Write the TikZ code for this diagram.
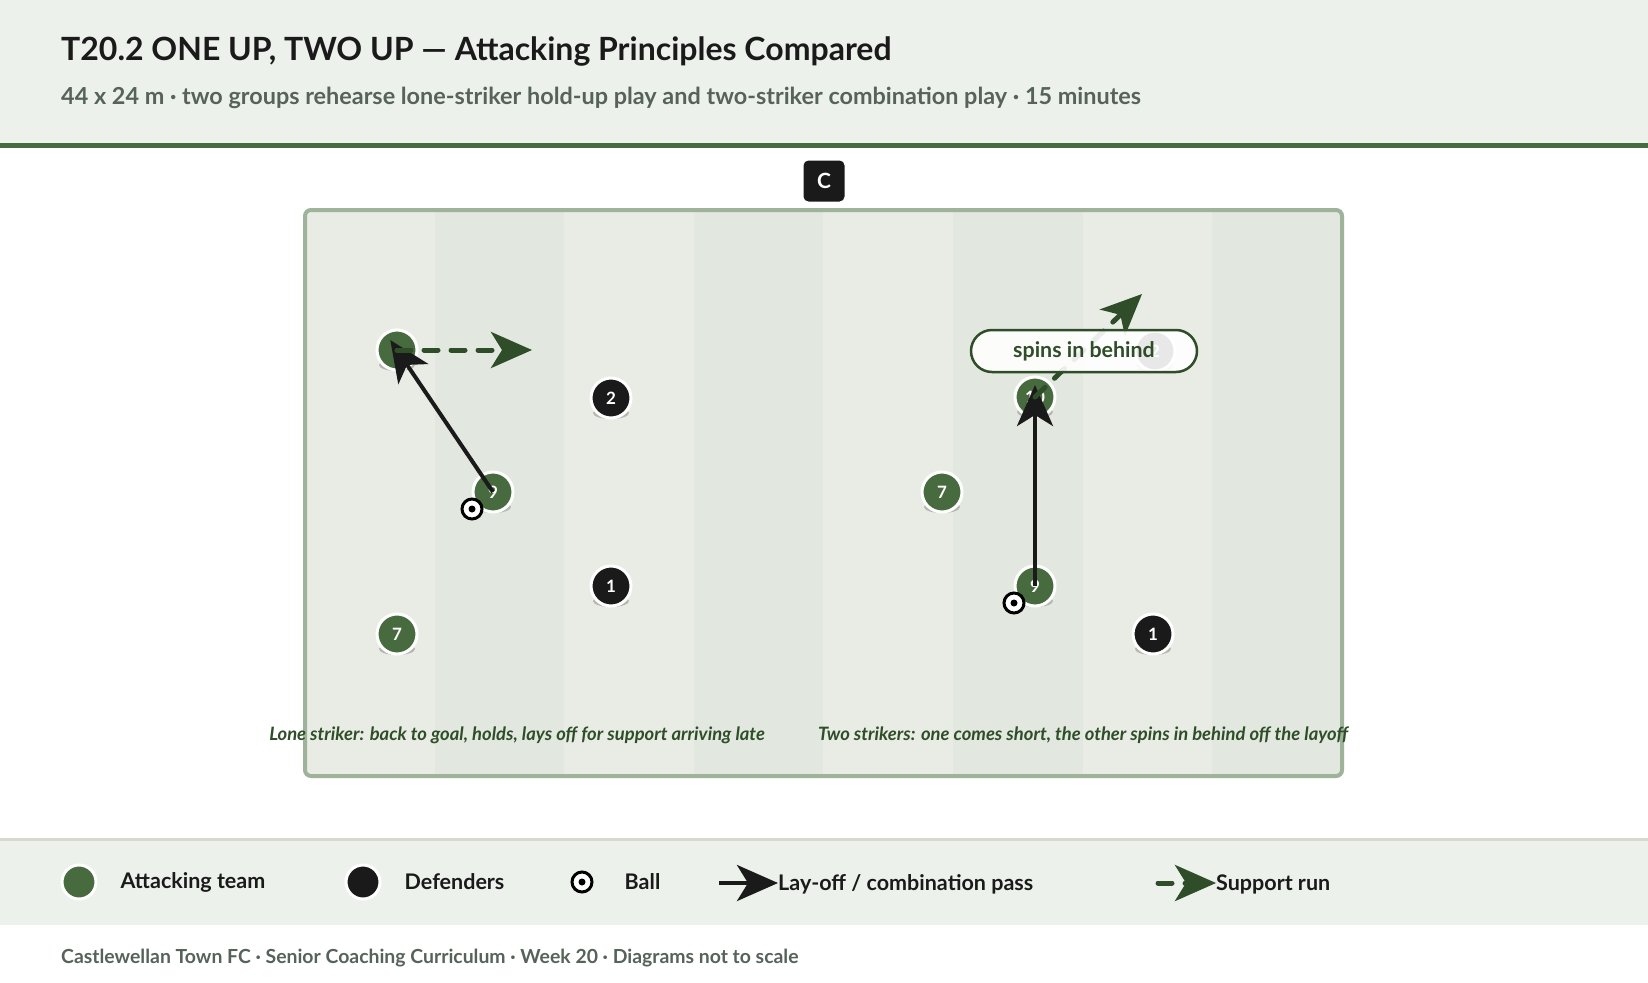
\documentclass[tikz,border=0pt]{standalone}
\usepackage{fontspec}
\setmainfont{Lato}
\usetikzlibrary{arrows.meta,positioning}

\definecolor{headbg}{HTML}{EDF1EC}
\definecolor{headline}{HTML}{476B3E}
\definecolor{subgray}{HTML}{56625A}
\definecolor{stripelight}{HTML}{E9ECE5}
\definecolor{stripedark}{HTML}{E2E8DF}
\definecolor{pitchline}{HTML}{9EB39A}
\definecolor{attgreen}{HTML}{476B3E}
\definecolor{defblack}{HTML}{1A1A1A}
\definecolor{rungreen}{HTML}{2E4D28}
\definecolor{shadowgray}{HTML}{B4B8B0}
\definecolor{legendline}{HTML}{D8D8CF}

\tikzset{
  att/.style={circle, fill=attgreen, draw=white, line width=3pt, minimum size=40pt,
    inner sep=0pt, text=white, font=\bfseries\fontsize{17}{17}\selectfont},
  def/.style={att, fill=defblack},
  ball/.style={circle, fill=white, draw=black, line width=3pt, minimum size=20pt, inner sep=0pt,
    path picture={\fill[black] (path picture bounding box.center) circle (3.5pt);}},
  pass/.style={draw=defblack, line width=4pt, shorten >=-12pt,
    -{Stealth[length=41pt,width=36pt,inset=11pt,line cap=butt]}},
  run/.style={draw=rungreen, line width=5pt, line cap=round, dash pattern=on 14pt off 13pt,
    -{Stealth[length=41pt,width=36pt,inset=11pt,line cap=butt]}},
  keydot/.style={circle, draw=white, line width=3pt, minimum size=34pt, inner sep=0pt},
  keytext/.style={anchor=west, font=\bfseries\fontsize{21.5}{25}\selectfont, text=defblack, inner sep=0pt},
  caption/.style={font=\bfseries\itshape\fontsize{18.4}{22}\selectfont, text=rungreen, anchor=base},
}

% player with its ground shadow: style, name, position, number
\newcommand{\player}[4]{%
  \fill[shadowgray] ([yshift=-15pt]#3) ellipse (18pt and 6pt);
  \node[#1] (#2) at (#3) {#4};}

\begin{document}
\begin{tikzpicture}[x=1pt,y=-1pt]
  \useasboundingbox (0,0) rectangle (1648,982);
  \fill[white] (0,0) rectangle (1648,982);

  % header
  \fill[headbg] (0,0) rectangle (1648,143);
  \fill[headline] (0,143) rectangle (1648,148);
  \node[anchor=base west, inner sep=0pt, font=\bfseries\fontsize{32}{38}\selectfont, text=defblack]
    (title) at (61,60) {T20.2 ONE UP, TWO UP — Attacking Principles Compared};
  \node[anchor=base west, inner sep=0pt, font=\bfseries\fontsize{23.4}{28}\selectfont, text=subgray]
    (subtitle) at (61,104) {44 x 24 m · two groups rehearse lone-striker hold-up play and two-striker combination play · 15 minutes};

  % pitch
  \node[fill=defblack, rounded corners=5pt, minimum size=41pt, text=white,
    font=\bfseries\fontsize{21}{21}\selectfont] (badge) at (824,181) {C};
  \begin{scope}
    \clip[rounded corners=6pt] (305,210) rectangle (1342,776);
    \foreach \i in {0,...,7} {
      \ifodd\i \def\stripecol{stripedark}\else\def\stripecol{stripelight}\fi
      \fill[\stripecol] (305+129.6*\i,210) rectangle (305+129.6*\i+129.6,776);
    }
  \end{scope}
  \draw[pitchline, line width=4pt, rounded corners=6pt] (305,210) rectangle (1342,776);

  % lone striker
  \player{att}{l10}{397,350}{}
  \player{att}{l9}{493,492}{9}
  \player{att}{l7}{397,634}{7}
  \player{def}{l2}{611,398}{2}
  \player{def}{l1}{611,586}{1}
  \node[ball] (lball) at (472,509) {};
  \coordinate (lrun) at (532,350);
  \draw[pass] (l9.center) -- (l10.center);
  \draw[run] (l10.center) -- (lrun);

  % two strikers
  \player{att}{r10}{1035,397}{10}
  \player{att}{r7}{942,492}{7}
  \player{att}{r9}{1035,586}{9}
  \player{def}{r2}{1155,351}{2}
  \player{def}{r1}{1153,634}{1}
  \node[ball] (rball) at (1014,603) {};
  \coordinate (rrun) at (1142,294);
  \draw[pass] (r9.center) -- (r10.center);
  \draw[run] (r10.center) -- (rrun);
  \node[draw=rungreen, line width=2.5pt, fill=white, fill opacity=0.9, text opacity=1,
    rounded corners=21pt, minimum width=226pt, minimum height=42pt, text=rungreen,
    font=\bfseries\fontsize{21.4}{25}\selectfont] (spins) at (1084,351) {spins in behind};

  \node[caption] (lcap) at (517,740) {Lone striker: back to goal, holds, lays off for support arriving late};
  \node[caption] (rcap) at (1083,740) {Two strikers: one comes short, the other spins in behind off the layoff};

  % legend
  \fill[headbg] (0,838) rectangle (1648,925);
  \fill[legendline] (0,838) rectangle (1648,841);
  \node[keydot, fill=attgreen] (katt) at (79,882) {};
  \node[keytext, right=23pt of katt] (tatt) {Attacking team};
  \node[keydot, fill=defblack] (kdef) at (363,882) {};
  \node[keytext, right=23pt of kdef] (tdef) {Defenders};
  \node[ball] (kball) at (582,882) {};
  \node[keytext, right=31pt of kball] (tball) {Ball};
  \coordinate (kpass) at (719,883);
  \node[keytext] (tpass) at (778,884) {Lay-off / combination pass};
  \draw[pass, shorten >=0pt] (kpass) -- (tpass.west |- kpass);
  \coordinate (krun) at (1158,883);
  \node[keytext] (trun) at (1216,884) {Support run};
  \draw[run] (krun) -- (trun.west |- krun);

  % footer
  \node[anchor=base west, inner sep=0pt, font=\bfseries\fontsize{19.4}{23}\selectfont, text=subgray]
    (footer) at (61,963) {Castlewellan Town FC · Senior Coaching Curriculum · Week 20 · Diagrams not to scale};
\end{tikzpicture}
\end{document}
